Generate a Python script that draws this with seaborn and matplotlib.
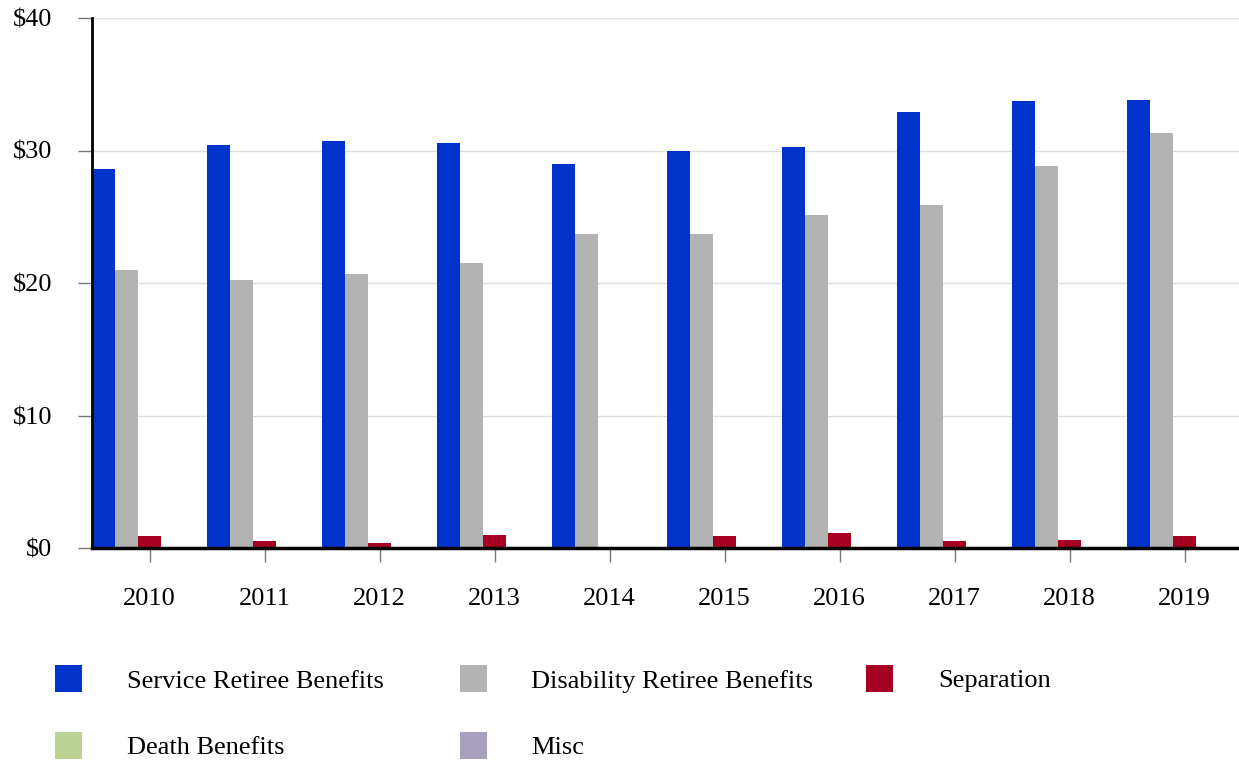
import numpy as np
import pandas as pd
import seaborn as sns
import matplotlib.pyplot as plt
from matplotlib.patches import Rectangle

# Benefit payments by fiscal year (millions of dollars)
years = ["2010", "2011", "2012", "2013", "2014", "2015", "2016", "2017", "2018", "2019"]
service_retiree = [28.6, 30.4, 30.7, 30.6, 29.0, 30.0, 30.3, 32.9, 33.7, 33.8]
disability_retiree = [21.0, 20.2, 20.7, 21.5, 23.7, 23.7, 25.1, 25.9, 28.8, 31.3]
separation = [0.9, 0.5, 0.4, 1.0, 0.0, 0.9, 1.1, 0.5, 0.6, 0.9]
death_benefits = [0.0] * 10
misc = [0.0] * 10

series_names = ["Service Retiree Benefits", "Disability Retiree Benefits", "Separation",
                "Death Benefits", "Misc"]
series_colors = ["#0033CC", "#B3B3B3", "#A50021", "#BBD293", "#A9A0C0"]
y_ticks = [0, 10, 20, 30, 40]

sns.set_style("white")
plt.rcParams["font.family"] = ["Liberation Serif", "DejaVu Serif"]

W, H = 1239, 761
fig = plt.figure(figsize=(W / 100, H / 100), dpi=100)
ax = fig.add_axes([92 / W, 1 - 548 / H, 1150 / W, (548 - 18) / H])

df = pd.DataFrame({
    "Year": years,
    series_names[0]: service_retiree,
    series_names[1]: disability_retiree,
    series_names[2]: separation,
    series_names[3]: death_benefits,
    series_names[4]: misc,
}).melt(id_vars="Year", var_name="Series", value_name="Value")

sns.barplot(data=df, x="Year", y="Value", hue="Series", hue_order=series_names,
            palette=series_colors, width=1.0, gap=0, linewidth=0, saturation=1,
            errorbar=None, legend=False, ax=ax)

ax.set_xlim(-0.5, len(years) - 0.5)
ax.set_ylim(0, 40)
ax.set_yticks(y_ticks)
ax.set_yticklabels([f"${v}" for v in y_ticks])
ax.set_xlabel("")
ax.set_ylabel("")

ax.yaxis.grid(True, color="#DDDDDD", linewidth=1)
ax.xaxis.grid(False)
ax.set_axisbelow(True)

for side in ("top", "right"):
    ax.spines[side].set_visible(False)
ax.spines["left"].set_color("black")
ax.spines["left"].set_linewidth(2)
ax.spines["bottom"].set_color("black")
ax.spines["bottom"].set_linewidth(2.5)
ax.spines["bottom"].set_zorder(5)

ax.tick_params(axis="y", length=10, width=1, color="#777777", pad=18.5,
               labelsize=19, labelcolor="black", left=True)
ax.tick_params(axis="x", length=10, width=1, color="#777777", pad=19,
               labelsize=19, labelcolor="black", bottom=True)

# Legend laid out in a three-column grid beneath the plot
swatch_x = [55, 460, 866]
text_x = [127, 531, 938]
row_y = [678.5, 745]
size = 27
for i, (name, color) in enumerate(zip(series_names, series_colors)):
    col, row = i % 3, i // 3
    yc = row_y[row]
    fig.add_artist(Rectangle((swatch_x[col] / W, 1 - (yc + size / 2) / H), size / W, size / H,
                             transform=fig.transFigure, facecolor=color, edgecolor="none"))
    fig.text(text_x[col] / W, 1 - (yc + 3) / H, name, fontsize=19, va="center", ha="left",
             color="black")

fig.savefig("out.png", dpi=100)
